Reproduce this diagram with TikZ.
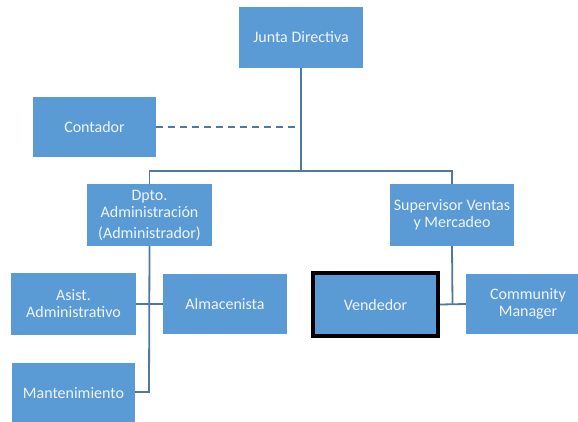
\documentclass[tikz,border=0pt]{standalone}
\usepackage{fontspec}
\setmainfont{Carlito}
\definecolor{boxblue}{HTML}{5B9BD5}
\definecolor{linkblue}{HTML}{5079A0}
\definecolor{txtwhite}{HTML}{EEF4FA}
\begin{document}
\begin{tikzpicture}[x=1pt,y=1pt,
  box/.style={rectangle, fill=boxblue, text=txtwhite, minimum width=124pt, minimum height=61pt,
    inner sep=2pt, align=center, font=\fontsize{16}{17}\selectfont},
  link/.style={draw=linkblue, line width=1.8pt},
  dashlink/.style={link, dash pattern=on 7pt off 5pt}]
\clip (0,0) rectangle (578,-421);
\fill[white] (0,0) rectangle (578,-421);
% boxes
\node[box] (junta) at (301,-37.5) {Junta Directiva};
\node[box, minimum width=123pt, minimum height=60pt] (conta) at (94.5,-127) {Contador};
\node[box, minimum width=125pt, minimum height=62pt] (dpto) at (149.5,-215) {Dpto.\\Administración\\[4pt](Administrador)};
\node[box, minimum height=62pt] (super) at (452,-215) {Supervisor Ventas\\y Mercadeo};
\node[box, minimum width=125pt, minimum height=62pt] (asist) at (73.5,-304) {Asist.\\Administrativo};
\node[box, minimum height=60pt] (alma) at (225,-304) {Almacenista};
\node[box, minimum width=123pt, minimum height=61pt] (mant) at (73.5,-393.5) {Mantenimiento};
\node[box, minimum width=125pt, minimum height=63pt] (vend) at (375.5,-304.5) {Vendedor};
\draw[black, line width=3.5pt] (vend.south west) rectangle (vend.north east);
\node[box, minimum height=60pt] (comm) at (528,-304) {Community\\Manager};
% connectors
\coordinate (bar) at (301,-171);
\coordinate (dashend) at (301,-127);
\coordinate (lbot) at (149,-392);
\coordinate (rmid) at (452.5,-304);
\draw[link] (junta.south) -- (bar);
\draw[link] (dpto.north) |- (bar) -| (super.north);
\draw[dashlink] (conta.east) -- (dashend);
\draw[link] (dpto.south) -- (lbot) -- (mant.east |- lbot);
\draw[link] (asist.east) -- (alma.west);
\draw[link] (super.south) -- (rmid);
\draw[link] ([xshift=1.75pt]vend.east) -- (comm.west);
\end{tikzpicture}
\end{document}
